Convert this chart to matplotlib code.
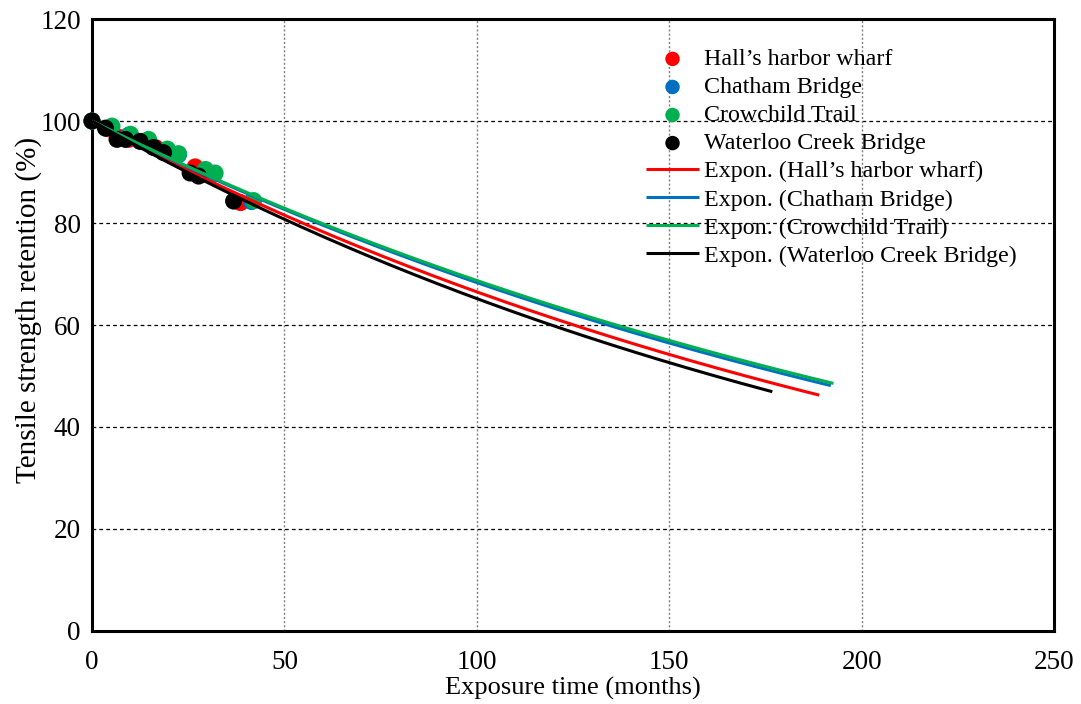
import numpy as np
import matplotlib
matplotlib.use("Agg")
import matplotlib.pyplot as plt

plt.rcParams['font.family'] = ['Liberation Serif', 'DejaVu Serif']
plt.rcParams['mathtext.fontset'] = 'stix'

# Measured tensile strength retention per site
series_names = ["Hall\u2019s harbor wharf", "Chatham Bridge", "Crowchild Trail", "Waterloo Creek Bridge"]
series_colors = ["#FF0000", "#0070C0", "#00B050", "#000000"]

halls_x = [0, 4, 7, 9.5, 13, 16.5, 19.5, 26.8, 28.5, 38.6]
halls_y = [100, 98.5, 96.8, 96.4, 96.0, 94.8, 93.8, 91.0, 89.5, 84.0]

chatham_x = [0, 5, 9.5, 14.5, 19.5, 22.5, 29.5, 31.8, 41.5]
chatham_y = [100, 98.8, 97.2, 96.2, 94.4, 93.4, 90.3, 89.6, 84.2]

crowchild_x = [0, 5.2, 10, 14.7, 19.6, 22.5, 29.5, 32, 42]
crowchild_y = [100, 99.0, 97.4, 96.4, 94.5, 93.6, 90.5, 89.8, 84.4]

waterloo_x = [0, 3.5, 6.5, 8.7, 12.5, 16, 18.6, 25.5, 27.7, 36.8]
waterloo_y = [100, 98.6, 96.4, 96.4, 96.0, 94.8, 93.8, 89.8, 89.2, 84.3]

# Exponential trendlines y = a * exp(b * x), drawn from 0 to the forecast end
trend_a = [100.0, 100.0, 100.0, 100.0]
trend_b = [-0.00408, -0.00381, -0.00375, -0.00428]
trend_end = [189.0, 192.0, 192.7, 176.8]

xs_all = [halls_x, chatham_x, crowchild_x, waterloo_x]
ys_all = [halls_y, chatham_y, crowchild_y, waterloo_y]

fig = plt.figure(figsize=(10.81, 7.04), dpi=100)
ax = fig.add_axes([0.0851, 0.1037, 0.8899, 0.8693])

# Gridlines: dashed black horizontals, dotted grey verticals
for yv in [20, 40, 60, 80, 100]:
    ax.axhline(yv, color='black', lw=0.9, ls=(0, (3, 2.5)), zorder=0)
for xv in [50, 100, 150, 200]:
    ax.axvline(xv, color='#7f7f7f', lw=1.0, ls=(0, (1.5, 1.5)), zorder=0)

scatter_handles = []
for x, y, name, c in zip(xs_all, ys_all, series_names, series_colors):
    h = ax.scatter(x, y, s=150, color=c, edgecolors='none', label=name,
                   zorder=3, clip_on=False)
    scatter_handles.append(h)

line_handles = []
for a, b, end, name, c in zip(trend_a, trend_b, trend_end, series_names, series_colors):
    xt = np.linspace(0, end, 300)
    (h,) = ax.plot(xt, a * np.exp(b * xt), color=c, lw=2.2, solid_capstyle='butt',
                   label=f"Expon. ({name})", zorder=4)
    line_handles.append(h)

ax.set_xlim(0, 250)
ax.set_ylim(0, 120)
ax.set_xticks(np.arange(0, 251, 50))
ax.set_yticks(np.arange(0, 121, 20))
ax.tick_params(length=0, labelsize=19.5)
ax.tick_params(axis='y', pad=8)
ax.tick_params(axis='x', pad=14)
for sp in ax.spines.values():
    sp.set_linewidth(2.2)
    sp.set_color('black')

ax.set_xlabel("Exposure time (months)", fontsize=19, labelpad=1)
ax.set_ylabel("Tensile strength retention (%)", fontsize=21)
ax.yaxis.set_label_coords(-0.052, 0.524)

leg = ax.legend(handles=scatter_handles + line_handles, loc='upper left',
                bbox_to_anchor=(0.576, 0.952), frameon=False, fontsize=17.3,
                handlelength=2.2, handletextpad=0.2, labelspacing=0.26,
                borderpad=0, borderaxespad=0, scatterpoints=1,
                markerscale=0.85)

fig.savefig("out.png", dpi=100)
